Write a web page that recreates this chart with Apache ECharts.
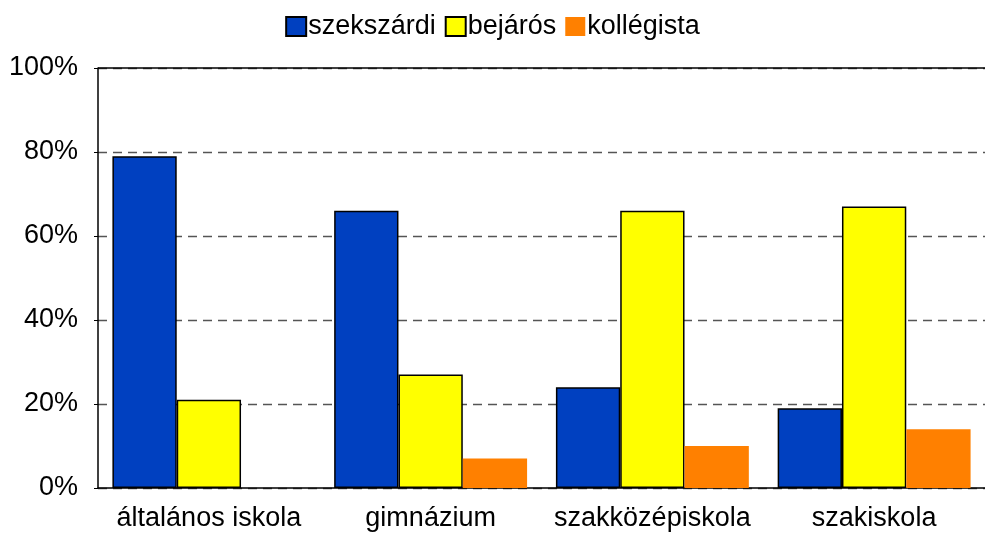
<!DOCTYPE html>
<html>
<head>
<meta charset="utf-8">
<script src="https://cdn.jsdelivr.net/npm/echarts@6/dist/echarts.min.js"></script>
<style>
  html, body { margin: 0; padding: 0; background: #fff; }
  #chart { width: 985px; height: 533px; }
</style>
</head>
<body>
<div id="chart"></div>
<script>
const categories = ["általános iskola", "gimnázium", "szakközépiskola", "szakiskola"];
const szekszardi = [79, 66, 24, 19];
const bejaros = [21, 27, 66, 67];
const kollegista = [0, 7, 10, 14];

const chart = echarts.init(document.getElementById("chart"));
const font = "Liberation Sans, Arial, sans-serif";

chart.setOption({
  animation: false,
  textStyle: { fontFamily: font },
  legend: {
    top: 8,
    left: "center",
    itemWidth: 20,
    itemHeight: 19,
    itemGap: 9,
    icon: "rect",
    textStyle: { fontSize: 27, color: "#000", fontFamily: font, padding: [0, 0, 0, -3] },
    data: ["szekszárdi", "bejárós", "kollégista"]
  },
  grid: { left: 98, right: 0, top: 68, bottom: 45 },
  xAxis: {
    type: "category",
    data: categories,
    axisLine: { lineStyle: { color: "#000", width: 1.5 } },
    axisTick: { show: false },
    axisLabel: { interval: 0, fontSize: 27, color: "#000", margin: 17, fontFamily: font }
  },
  yAxis: {
    type: "value",
    min: 0,
    max: 100,
    interval: 20,
    axisLine: { show: true, lineStyle: { color: "#000", width: 1.5 } },
    axisTick: { show: true, length: 4, lineStyle: { color: "#000" } },
    axisLabel: { fontSize: 27, color: "#000", margin: 20, formatter: "{value}%", fontFamily: font },
    splitLine: { show: true, lineStyle: { color: "#555", type: [9, 6], width: 1.3 } }
  },
  series: [
    {
      name: "szekszárdi",
      type: "bar",
      data: szekszardi,
      barGap: "0%",
      barCategoryGap: "13%",
      itemStyle: { color: "#0040C0", borderColor: "#000", borderWidth: 1.5 }
    },
    {
      name: "bejárós",
      type: "bar",
      data: bejaros,
      itemStyle: { color: "#FFFF00", borderColor: "#000", borderWidth: 1.5 }
    },
    {
      name: "kollégista",
      type: "bar",
      data: kollegista,
      itemStyle: { color: "#FF8000", borderColor: "#000", borderWidth: 0 }
    }
  ]
});

// top border of the plot area
chart.setOption({
  graphic: [{
    type: "line",
    shape: { x1: 98, y1: 68, x2: 985, y2: 68 },
    style: { stroke: "#000", lineWidth: 1.5 }
  }]
});
</script>
</body>
</html>
